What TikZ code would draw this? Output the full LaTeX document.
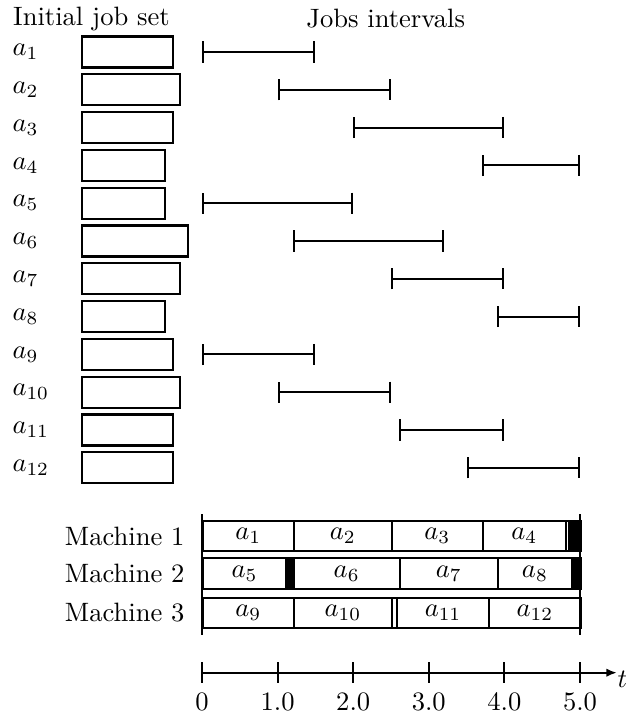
\documentclass[tikz,border=0pt]{standalone}
\usetikzlibrary{arrows.meta,positioning}
\tikzset{
  joblbl/.style={anchor=west,inner sep=0pt},
  jobbox/.style={draw,thick,anchor=west,minimum height=4.1mm,inner sep=0pt},
  intv/.style={thick,{Bar[width=8pt]}-{Bar[width=8pt]}},
  slot/.style={draw,thick,anchor=west,minimum height=4mm,inner sep=0pt},
  mlbl/.style={anchor=east,inner sep=0pt},
  axtick/.style={thick},
  ticklbl/.style={anchor=base,inner sep=0pt},
}

\begin{document}
\begin{tikzpicture}
  \useasboundingbox (-2.672,-9.418) rectangle (5.608,0);
  \node[anchor=base west,inner sep=0pt] (ttlset) at (-2.504,-0.331) {Initial job set};
  \node[anchor=base,inner sep=0pt] (ttlint) at (2.43,-0.36) {Jobs intervals};

  % jobs: index/processing time/interval start/interval end
  \foreach \i/\p/\s/\e in {1/1.2/0/1.5, 2/1.3/1/2.5, 3/1.2/2/4, 4/1.1/3.7/5,
      5/1.1/0/2, 6/1.4/1.2/3.2, 7/1.3/2.5/4, 8/1.1/3.9/5,
      9/1.2/0/1.5, 10/1.3/1/2.5, 11/1.2/2.6/4, 12/1.2/3.5/5}{
    \pgfmathsetmacro{\y}{-0.688-0.5*(\i-1)}
    \node[joblbl] (l\i) at (-2.513,\y) {$a_{\i}$};
    \node[jobbox,minimum width=\p cm] (b\i) at (-1.6,\y) {};
    \coordinate (s\i) at (\s,\y);
    \coordinate (e\i) at (\e,\y);
    \draw[intv] (s\i) -- (e\i);
  }

  % machines
  \foreach \m/\y in {1/-7.09, 2/-7.586, 3/-8.108}{
    \node[mlbl] (mach\m) at (-0.225,\y) {Machine \m};
    \node[slot,minimum width=5cm] (row\m) at (0,\y) {};
  }
  \fill (4.84,-6.89) rectangle (5,-7.29);
  \fill (1.1,-7.386) rectangle (1.2,-7.786);
  \fill (4.88,-7.386) rectangle (5,-7.786);
  \foreach \y/\j/\s/\e in {-7.09/1/0/1.2, -7.09/2/1.2/2.5, -7.09/3/2.5/3.7, -7.09/4/3.7/4.8,
      -7.586/5/0/1.1, -7.586/6/1.2/2.6, -7.586/7/2.6/3.9, -7.586/8/3.9/4.88,
      -8.108/9/0/1.2, -8.108/10/1.2/2.5, -8.108/11/2.57/3.78, -8.108/12/3.78/5}{
    \node[slot,minimum width={(\e-\s)*1cm}] (q\j) at (\s,\y) {$a_{\j}$};
  }
  \coordinate (v0t) at (0,-6.799);
  \coordinate (v0b) at (0,-8.399);
  \coordinate (v5t) at (5,-6.799);
  \coordinate (v5b) at (5,-8.399);
  \draw[thick] (v0t) -- (v0b);
  \draw[thick] (v5t) -- (v5b);

  % time axis
  \coordinate (ax0) at (0,-8.898);
  \coordinate (ax1) at (5.49,-8.898);
  \draw[thick,-{Latex[length=1.4mm,width=1.1mm]}] (ax0) -- (ax1);
  \node[inner sep=0pt] (tlbl) at (5.56,-8.98) {$t$};
  \foreach \k/\lab in {0/0,1/1.0,2/2.0,3/3.0,4/4.0,5/5.0}{
    \draw[axtick] (\k,-8.758) -- (\k,-9.038);
    \node[ticklbl] (tk\k) at (\k,-9.40) {\lab};
  }
\end{tikzpicture}
\end{document}
